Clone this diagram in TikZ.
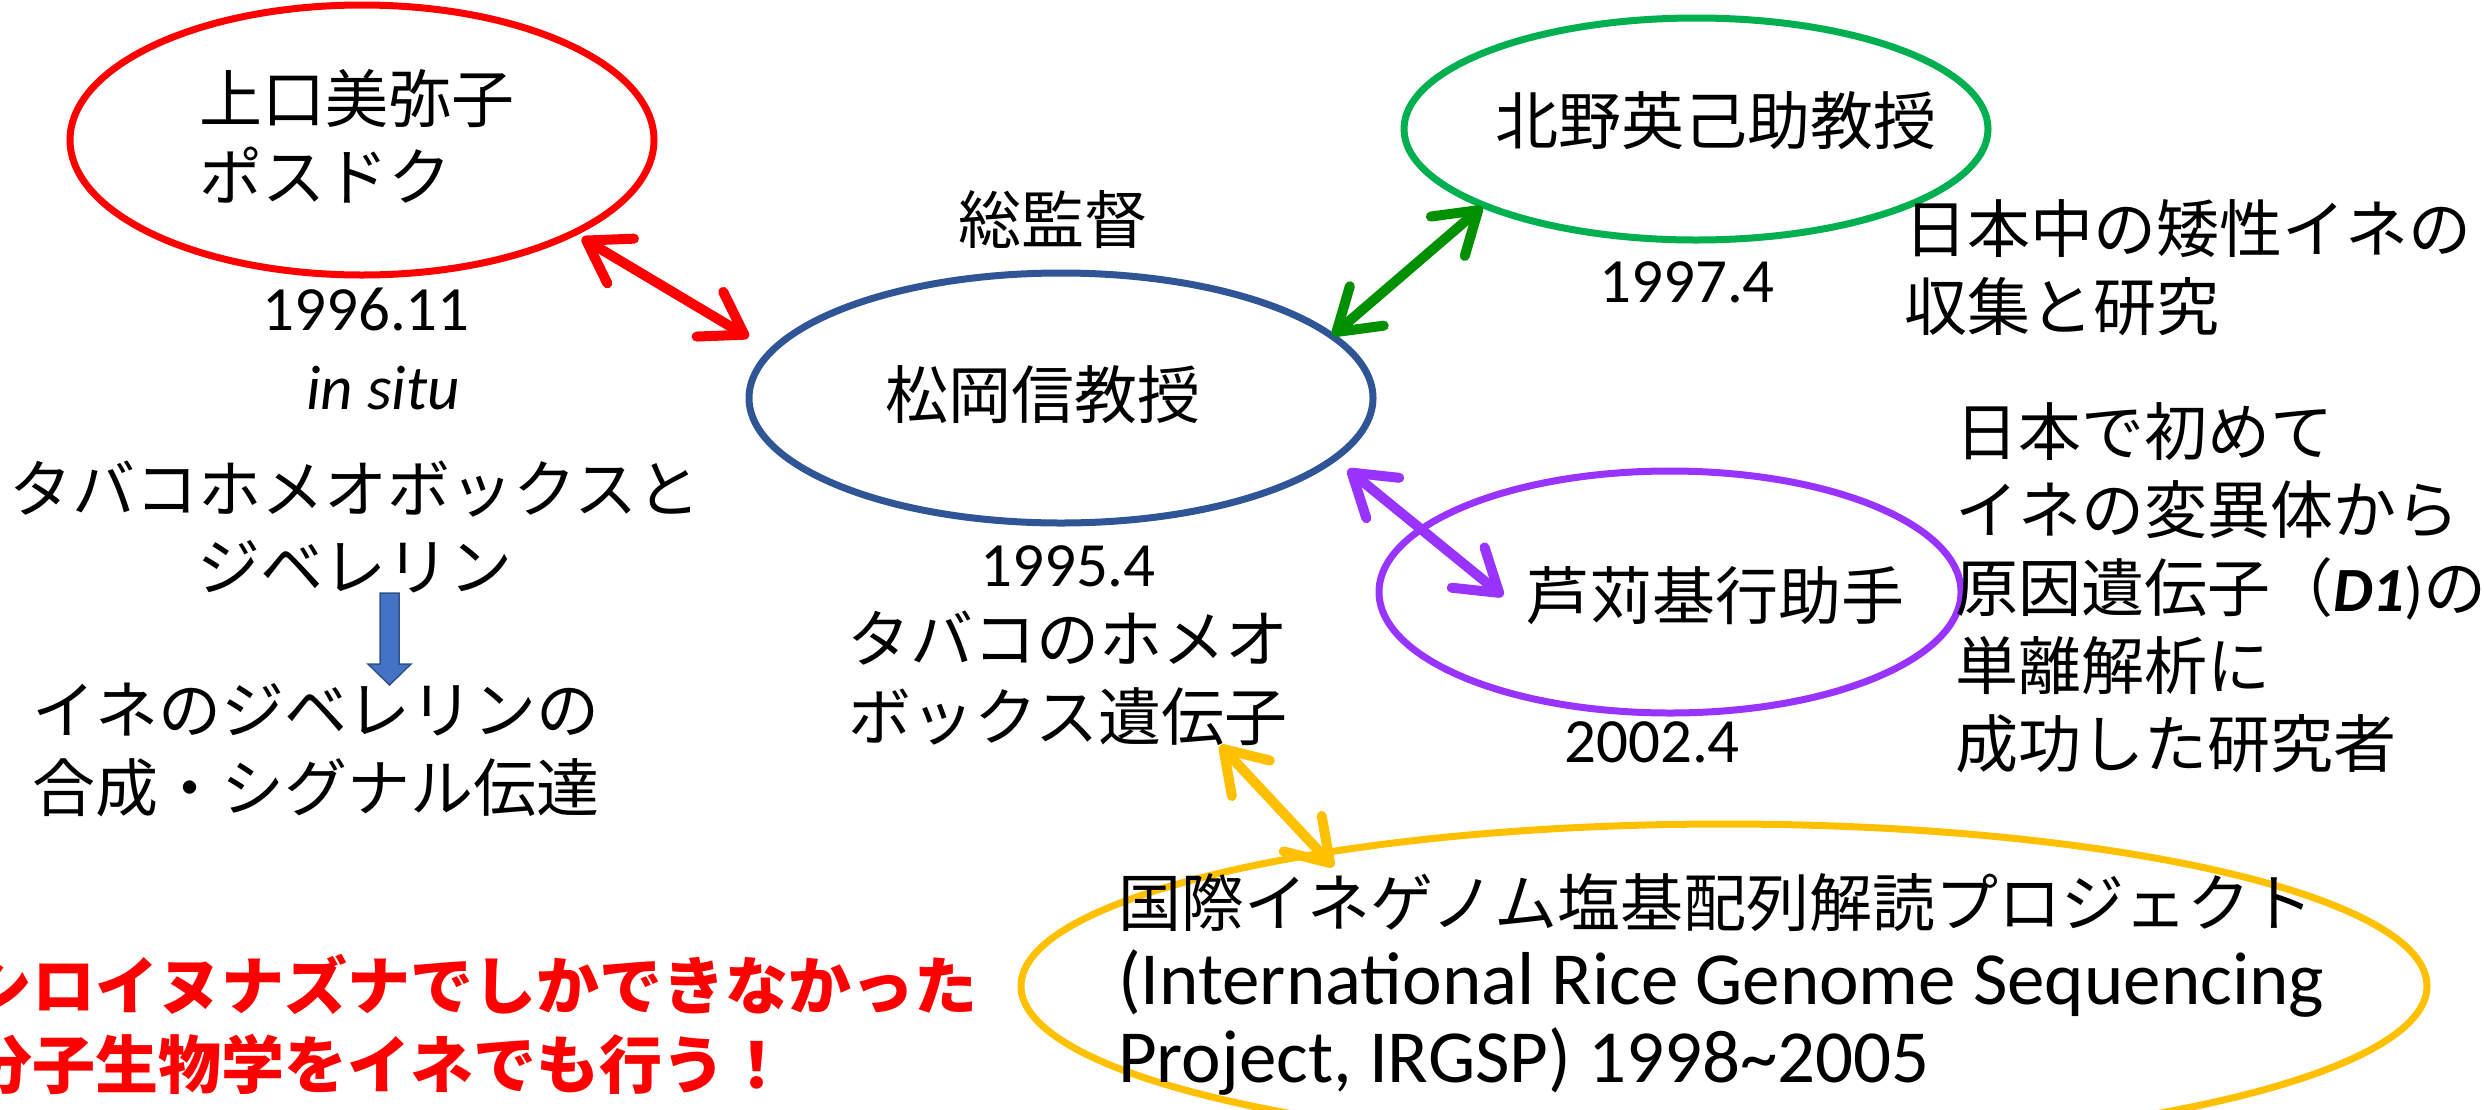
\documentclass[tikz,border=0pt]{standalone}
\usepackage{fontspec}
\setmainfont{Carlito}
\newfontfamily\jpf{Noto Sans CJK JP}
\usetikzlibrary{arrows.meta,calc,shapes.geometric}
\definecolor{cRed}{HTML}{FF0000}
\definecolor{cBlueE}{HTML}{2F5597}
\definecolor{cGreenE}{HTML}{00B050}
\definecolor{cGreenA}{HTML}{009000}
\definecolor{cPurple}{HTML}{9933FF}
\definecolor{cYellow}{HTML}{FFC000}
\definecolor{cBlockF}{HTML}{4472C4}
\definecolor{cBlockD}{HTML}{2F528F}
\begin{document}
\begin{tikzpicture}[x=1pt,y=-1pt,
  every node/.style={inner sep=0pt,outer sep=0pt,font=\fontsize{63}{78}\selectfont},
  oval/.style={draw,ellipse,line width=7pt},
  jtext/.style={font=\fontsize{63}{78}\selectfont\jpf},
  arr/.style={line width=10pt,line cap=round,
     >={Straight Barb[length=40pt,width=52pt,round]},<->}]
\useasboundingbox (0,0) rectangle (2484,1109);
\clip (0,0) rectangle (2484,1109);

% ellipses
\node[oval,draw=cRed,minimum width=584pt,minimum height=270pt] (nRed) at (362,140) {};
\node[oval,draw=cBlueE,minimum width=624pt,minimum height=250pt] (nBlue) at (1061,398) {};
\node[oval,draw=cGreenE,minimum width=584pt,minimum height=222pt] (nGreen) at (1696,129) {};
\node[oval,draw=cPurple,minimum width=582pt,minimum height=242pt] (nPurple) at (1670,592) {};
\node[oval,draw=cYellow,minimum width=1406pt,minimum height=324pt] (nYellow) at (1724,986) {};

% texts, left part
\node[jtext,anchor=west,align=left] (tKami) at (199,136) {上口美弥子\\ポスドク};
\node[anchor=base] (tD1) at (366,330) {1996.11};
\node[anchor=base,font=\fontsize{63}{78}\selectfont\itshape] (tSitu) at (383,409) {in situ};
\node[jtext,align=center] (tTobGib) at (355,527) {タバコホメオボックスと\\ジベレリン};
\node[jtext,align=center] (tRiceGib) at (316,750) {イネのジベレリンの\\合成・シグナル伝達};
\node[jtext,anchor=west,align=left,text=cRed,font=\fontsize{63}{79}\selectfont\jpf\bfseries] (tNote) at (-30,1025) {シロイヌナズナでしかできなかった\\分子生物学をイネでも行う！};

% centre
\node[jtext] (tSoukan) at (1053,220) {総監督};
\node[jtext] (tMatsu) at (1043,395) {松岡信教授};
\node[anchor=base] (tD2) at (1068,586) {1995.4};
\node[jtext,align=center] (tTabako) at (1068,678) {タバコのホメオ\\ボックス遺伝子};

% right
\node[jtext] (tKitano) at (1716,121) {北野英己助教授};
\node[anchor=base] (tD3) at (1687,302) {1997.4};
\node[jtext,anchor=west,align=left] (tDwarf) at (1904,268) {日本中の矮性イネの\\収集と研究};
\node[jtext,anchor=west,align=left] (tFirst) at (1955,588) {日本で初めて\\イネの変異体から\\原因遺伝子（{\rmfamily\bfseries\itshape D1}{\rmfamily )}の\\単離解析に\\成功した研究者};
\node[jtext] (tAshi) at (1715,596) {芦苅基行助手};
\node[anchor=base] (tD4) at (1652,762) {2002.4};
\node[anchor=west,align=left,font=\fontsize{75}{78}\selectfont] (tIRGSP) at (1118,984) {{\jpf\fontsize{63}{78}\selectfont 国際イネゲノム塩基配列解読プロジェクト}\\(International Rice Genome Sequencing\\Project, IRGSP) 1998\textasciitilde 2005};

% blue block arrow
\draw[draw=cBlockD,fill=cBlockF,line width=1.5pt,line join=miter]
  (380,593) -- (399,593) -- (399,664) -- (411,664) -- (389.5,685) -- (368,664) -- (380,664) -- cycle;

% connectors
\draw[arr,draw=cRed] ($(nRed.center)!1.046!(nRed.-24.4)$) -- ($(nBlue.center)!1.113!(nBlue.169.4)$);
\draw[arr,draw=cGreenA] ($(nGreen.center)!1.015!(nGreen.200.9)$) -- ($(nBlue.center)!1.005!(nBlue.13.3)$);
\draw[arr,draw=cPurple] ($(nBlue.center)!1.083!(nBlue.-14.1)$) -- ($(tAshi.west)+(-23,0)$);
\draw[arr,draw=cYellow] ($(tTabako.south west)!0.845!(tTabako.south east)$) -- ($(nYellow.center)!0.923!(nYellow.163.2)$);
\end{tikzpicture}
\end{document}
